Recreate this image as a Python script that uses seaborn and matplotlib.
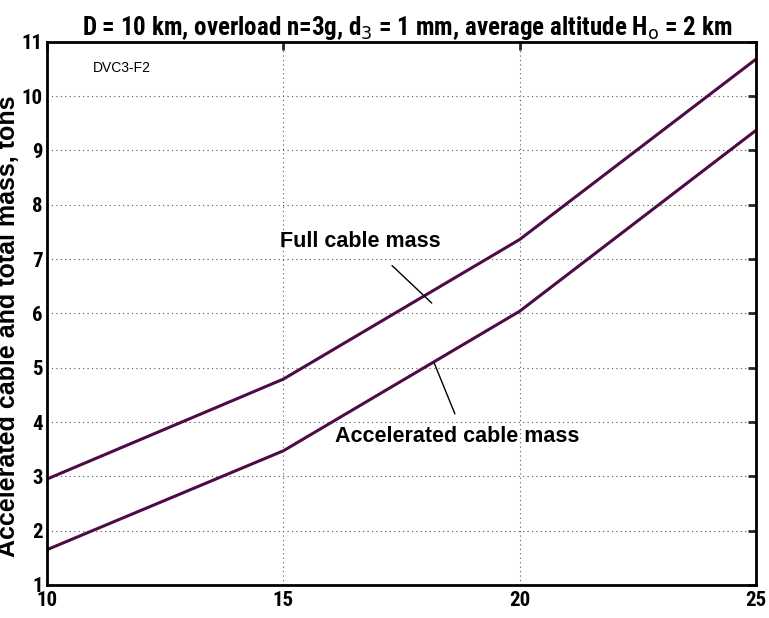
import seaborn as sns
import matplotlib.pyplot as plt
import pandas as pd
import numpy as np

distance_km = [10, 15, 20, 25]
full_mass = [2.95, 4.79, 7.36, 10.68]
accel_mass = [1.65, 3.47, 6.04, 9.37]

sns.set_style("white")
plt.rcParams['font.family'] = ['Roboto Condensed', 'Liberation Sans', 'DejaVu Sans']
plt.rcParams['text.color'] = 'black'
plt.rcParams['axes.labelcolor'] = 'black'
wide = ['Liberation Sans', 'DejaVu Sans']

data = pd.DataFrame({
    'x': distance_km * 2,
    'y': full_mass + accel_mass,
    'series': ['Full cable mass'] * 4 + ['Accelerated cable mass'] * 4,
})

fig = plt.figure(figsize=(7.69, 6.18), dpi=100)
ax = fig.add_axes([0.0611, 0.0534, 0.922, 0.879])
line_color = '#4e0b45'
sns.lineplot(data=data, x='x', y='y', hue='series', palette=[line_color, line_color],
             linewidth=2.2, legend=False, ax=ax)

ax.set_xlim(10, 25)
ax.set_ylim(1, 11)
ax.set_xticks([10, 15, 20, 25])
ax.set_yticks(range(1, 12))
ax.grid(True, linestyle=(0, (1, 3)), color='#555555', linewidth=0.8)
for s in ax.spines.values():
    s.set_linewidth(2)
    s.set_color('black')
ax.tick_params(direction='in', length=6, width=2, top=True, right=True,
               labelsize=15, pad=4, labelcolor='black')
ax.tick_params(axis='y', pad=3)
for lab in ax.get_xticklabels() + ax.get_yticklabels():
    lab.set_fontweight('bold')

ax.set_xlabel('')
ax.set_ylabel('Accelerated cable and total mass, tons', fontsize=18, fontweight='bold',
              family=wide, color='black')
ax.yaxis.set_label_coords(-0.038, 0.477)
ax.set_title(r'D = 10 km, overload n=3g, d$_3$ = 1 mm, average altitude H$_\mathrm{o}$ = 2 km',
             fontsize=18, fontweight='bold', pad=5, color='black', x=0.508)

ax.text(10.98, 10.45, 'DVC3-F2', fontsize=10, family=wide, color='black')

ax.text(16.62, 7.22, 'Full cable mass', fontsize=15.5, fontweight='bold', family=wide,
        ha='center', va='baseline', color='black')
ax.annotate('', xy=(18.14, 6.19), xytext=(17.30, 6.88),
            arrowprops=dict(arrowstyle='-', color='black', lw=1, shrinkA=0, shrinkB=0))
ax.text(18.68, 3.63, 'Accelerated cable mass', fontsize=15.5, fontweight='bold', family=wide,
        ha='center', va='baseline', color='black')
ax.annotate('', xy=(18.19, 5.09), xytext=(18.63, 4.15),
            arrowprops=dict(arrowstyle='-', color='black', lw=1, shrinkA=0, shrinkB=0))

fig.savefig('out.png', dpi=100)
